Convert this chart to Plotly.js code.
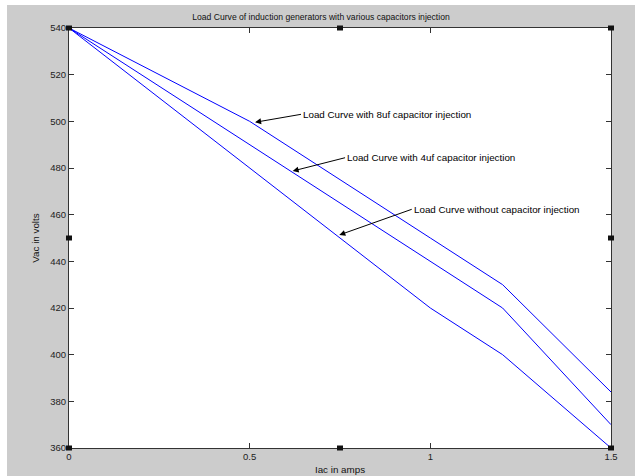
<!DOCTYPE html>
<html>
<head>
<meta charset="utf-8">
<script src="https://cdn.plot.ly/plotly-3.0.1.min.js"></script>
<style>
html,body{margin:0;padding:0;background:#ffffff;}
#chart{position:absolute;left:7px;top:5px;width:628px;height:471px;}
</style>
</head>
<body>
<div id="chart"></div>
<script>
// Data
const currentAmps8uf = [0, 0.5, 1.0, 1.2, 1.5];
const voltage8uf     = [540, 500, 450, 430, 384];

const currentAmps4uf = [0, 0.5, 1.0, 1.2, 1.5];
const voltage4uf     = [540, 490, 440, 420, 370];

const currentAmpsNoCap = [0, 0.5, 1.0, 1.2, 1.5];
const voltageNoCap     = [540, 480, 420, 400, 360];

const xTickVals = [0, 0.5, 1, 1.5];
const xTickText = ['0', '0.5', '1', '1.5'];
const yTickVals = [360, 380, 400, 420, 440, 460, 480, 500, 520, 540];

const labelTexts = [
  'Load Curve with 8uf capacitor injection',
  'Load Curve with 4uf capacitor injection',
  'Load Curve without capacitor injection'
];
// arrow heads (on the curves) and label anchors, in data units
const labelHeadX = [0.515, 0.619, 0.748];
const labelHeadY = [499.6, 478.7, 451.3];
const labelTailX = [0.642, 0.764, 0.9485];
const labelTailY = [503.0, 484.4, 462.3];

const FONT = 'Liberation Sans, Arial, sans-serif';
const lineStyle = {color: '#0000ff', width: 1};

const traces = [
  {x: currentAmps8uf, y: voltage8uf, mode: 'lines', line: lineStyle, name: '8uf'},
  {x: currentAmps4uf, y: voltage4uf, mode: 'lines', line: lineStyle, name: '4uf'},
  {x: currentAmpsNoCap, y: voltageNoCap, mode: 'lines', line: lineStyle, name: 'none'}
];

const annotations = labelTexts.map((t, i) => ({
  text: t, x: labelHeadX[i], y: labelHeadY[i], xref: 'x', yref: 'y',
  ax: labelTailX[i], ay: labelTailY[i], axref: 'x', ayref: 'y',
  showarrow: true, arrowhead: 2, arrowsize: 1.2, arrowwidth: 1, arrowcolor: '#000000',
  xanchor: 'left', yanchor: 'middle', standoff: 0, startstandoff: 0,
  font: {family: FONT, size: 9.8, color: '#000000'}
}));

// MATLAB-style edit handles on the axes box
const handlePos = [[0,0],[0.5,0],[1,0],[0,0.5],[1,0.5],[0,1],[0.5,1],[1,1]];
const shapes = handlePos.map(p => ({
  type: 'rect', xref: 'paper', yref: 'paper',
  xsizemode: 'pixel', ysizemode: 'pixel', xanchor: p[0], yanchor: p[1],
  x0: -3, x1: 3, y0: -2.5, y1: 2.5,
  fillcolor: '#111111', line: {width: 0}
}));

const axisCommon = {
  showgrid: false, zeroline: false, showline: true, linecolor: '#333333', linewidth: 1,
  mirror: 'ticks', ticks: 'inside', ticklen: 5, tickcolor: '#333333',
  tickfont: {family: FONT, size: 9.5, color: '#222222'}, fixedrange: true
};

const layout = {
  width: 628, height: 471,
  paper_bgcolor: '#cccccc', plot_bgcolor: '#ffffff',
  margin: {l: 62, r: 24, t: 23, b: 28},
  showlegend: false,
  title: {text: 'Load Curve of induction generators with various capacitors injection',
          font: {family: FONT, size: 8.6, color: '#111111'}, x: 0.5, xanchor: 'center', y: 0.974, yanchor: 'middle'},
  xaxis: Object.assign({}, axisCommon, {
    range: [0, 1.5], tickmode: 'array', tickvals: xTickVals, ticktext: xTickText,
    title: {text: 'Iac in amps', font: {family: FONT, size: 9.8, color: '#111111'}, standoff: 4}
  }),
  yaxis: Object.assign({}, axisCommon, {
    range: [360, 540], tickmode: 'array', tickvals: yTickVals,
    title: {text: 'Vac in volts', font: {family: FONT, size: 9.8, color: '#111111'}}
  }),
  annotations: annotations,
  shapes: shapes
};

Plotly.newPlot('chart', traces, layout, {displayModeBar: false, staticPlot: true});
</script>
</body>
</html>
